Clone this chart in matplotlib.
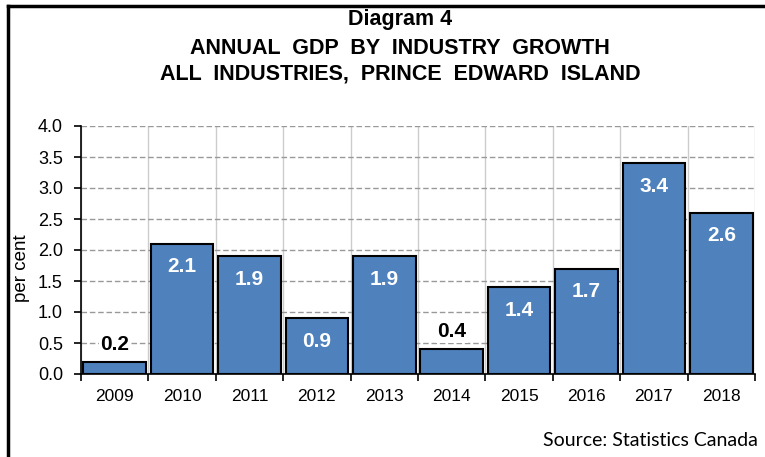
import matplotlib
matplotlib.use("Agg")
import matplotlib.pyplot as plt
from matplotlib.lines import Line2D
import numpy as np

years = ["2009", "2010", "2011", "2012", "2013", "2014", "2015", "2016", "2017", "2018"]
growth = [0.2, 2.1, 1.9, 0.9, 1.9, 0.4, 1.4, 1.7, 3.4, 2.6]
yticks = [0.0, 0.5, 1.0, 1.5, 2.0, 2.5, 3.0, 3.5, 4.0]
title_lines = ["Diagram 4", "ANNUAL  GDP  BY  INDUSTRY  GROWTH", "ALL  INDUSTRIES,  PRINCE  EDWARD  ISLAND"]

plt.rcParams['font.family'] = ['Liberation Sans', 'DejaVu Sans']

fig = plt.figure(figsize=(7.65, 4.57), dpi=100)
ax = fig.add_axes([81/765, 1-374/457, (755-81)/765, (374-126)/457])

x = np.arange(len(years))
ax.bar(x, growth, width=0.93, color="#4F81BD", edgecolor="black", linewidth=1.5, zorder=3)

ax.set_xlim(-0.5, len(years)-0.5)
ax.set_ylim(0, 4.0)
ax.set_yticks(yticks)
ax.set_yticklabels([f"{v:.1f}" for v in yticks], fontsize=13)
ax.set_xticks(x)
ax.set_xticklabels(years, fontsize=12.5)
ax.set_xticks(np.arange(-0.5, len(years), 1.0), minor=True)
ax.tick_params(axis='x', which='major', length=0, pad=11)
ax.tick_params(axis='x', which='minor', length=5, width=1.2, direction='out')
ax.tick_params(axis='y', length=5, width=1.2, direction='out', pad=8)

ax.yaxis.grid(True, linestyle=(0, (4, 2)), color="#999999", linewidth=1.0, zorder=0)
ax.xaxis.grid(True, which='minor', linestyle='-', color="#cccccc", linewidth=1.0, zorder=0)
ax.xaxis.grid(False, which='major')
ax.set_axisbelow(True)

for side in ['top', 'right']:
    ax.spines[side].set_visible(False)
ax.spines['left'].set_linewidth(1.2)
ax.spines['bottom'].set_linewidth(1.2)

for xi, v in zip(x, growth):
    if v < 0.6:
        ax.text(xi, v + 0.28, f"{v:.1f}", ha='center', va='center', fontsize=15,
                fontweight='bold', color='black', zorder=4,
                bbox=dict(facecolor='white', edgecolor='none', pad=1.0))
    else:
        ax.text(xi, v - 0.37, f"{v:.1f}", ha='center', va='center', fontsize=15,
                fontweight='bold', color='white', zorder=4)

fig.text(22/765, 1-268/457, "per cent", rotation=90, ha='center', va='center', fontsize=13.5)

ys = [20, 49, 74]
for t, yy in zip(title_lines, ys):
    fig.text(400/765, 1-yy/457, t, ha='center', va='center', fontsize=15.5,
             fontweight='bold', family=['Liberation Sans Narrow', 'Liberation Sans', 'DejaVu Sans'])

fig.text(758/765, 1-440/457, "Source: Statistics Canada", ha='right', va='center', fontsize=14,
         family=['Lato', 'DejaVu Sans'])

fig.add_artist(Line2D([8/765, 8/765], [0, 1-6/457], transform=fig.transFigure, color='black', linewidth=2.5))
fig.add_artist(Line2D([8/765, 1], [1-6/457, 1-6/457], transform=fig.transFigure, color='black', linewidth=2.5))

fig.savefig("out.png", dpi=100)
